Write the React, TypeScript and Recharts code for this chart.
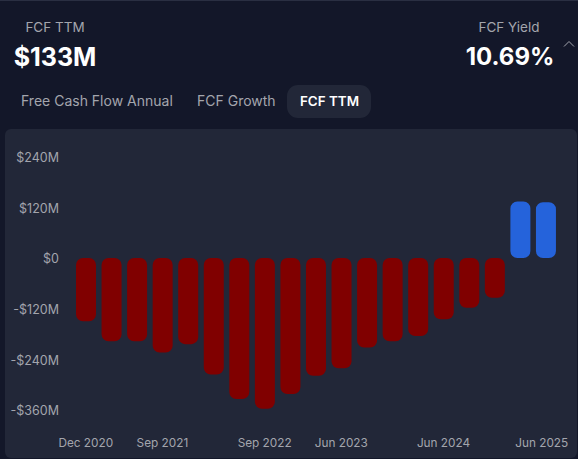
import { BarChart, Bar, XAxis, YAxis, Cell } from 'recharts';

const quarters = [
  'Dec 2020', 'Mar 2021', 'Jun 2021', 'Sep 2021', 'Dec 2021', 'Mar 2022', 'Jun 2022',
  'Sep 2022', 'Dec 2022', 'Mar 2023', 'Jun 2023', 'Sep 2023', 'Dec 2023', 'Mar 2024',
  'Jun 2024', 'Sep 2024', 'Dec 2024', 'Mar 2025', 'Jun 2025',
];
const fcfValues = [
  -150, -197, -197, -224, -204, -276, -334, -357, -322, -279, -261, -212, -197, -185, -145,
  -118, -94, 134, 132,
];
const xTicks = ['Dec 2020', 'Sep 2021', 'Sep 2022', 'Jun 2023', 'Jun 2024', 'Jun 2025'];
const yTicks = [240, 120, 0, -120, -240, -360];

const chartData = quarters.map((name, i) => ({ name, fcf: fcfValues[i] }));

const FONT = 'Inter, sans-serif';
const BG = '#131729';
const PANEL = '#222738';
const MUTED = '#a3a5ad';

function formatMoney(v: number) {
  if (v === 0) return '$0';
  return v < 0 ? `-$${-v}M` : `$${v}M`;
}

function DateTick({ x, y, payload }: any) {
  // last label gets pushed in so it stays inside the panel
  const dx = payload.value === 'Jun 2025' ? -4 : 0;
  return (
    <text x={x + dx} y={y} dy={9} textAnchor="middle" fill={MUTED} fontSize={11.8} fontFamily={FONT}>
      {payload.value}
    </text>
  );
}

function Label({ x, y, size, weight, color, anchor, children }: any) {
  return (
    <div
      style={{
        position: 'absolute',
        left: anchor === 'center' ? x - 100 : x,
        top: y,
        width: anchor === 'center' ? 200 : undefined,
        textAlign: anchor === 'center' ? 'center' : 'left',
        fontSize: size,
        fontWeight: weight,
        color,
        lineHeight: '20px',
        whiteSpace: 'nowrap',
      }}
    >
      {children}
    </div>
  );
}

export default function App() {
  return (
    <div
      style={{
        position: 'absolute',
        left: 0,
        top: 0,
        width: 578,
        height: 459,
        overflow: 'hidden',
        background: BG,
        fontFamily: FONT,
      }}
    >
      <div style={{ position: 'absolute', left: 0, top: 0, width: 578, height: 1, background: '#2a2f42' }} />

      <Label x={55} y={17} size={13.5} weight={400} color={MUTED} anchor="center">FCF TTM</Label>
      <Label x={55} y={47} size={25} weight={700} color="#ffffff" anchor="center">$133M</Label>
      <Label x={509} y={17} size={13.5} weight={400} color={MUTED} anchor="center">FCF Yield</Label>
      <Label x={510} y={47} size={24} weight={700} color="#ffffff" anchor="center">10.69%</Label>

      <svg style={{ position: 'absolute', left: 563, top: 40 }} width={12} height={8}>
        <polyline points="1,6.5 6,1.5 11,6.5" fill="none" stroke={MUTED} strokeWidth={1} />
      </svg>

      <div style={{ position: 'absolute', left: 287, top: 85, width: 84, height: 33, borderRadius: 11, background: PANEL }} />
      <Label x={21} y={91} size={14} weight={400} color={MUTED}>Free Cash Flow Annual</Label>
      <Label x={197} y={91} size={14} weight={400} color={MUTED}>FCF Growth</Label>
      <Label x={300} y={91} size={13.4} weight={600} color="#ffffff">FCF TTM</Label>

      <div style={{ position: 'absolute', left: 5, top: 129, width: 572, height: 329, borderRadius: 6, background: PANEL }} />

      <div style={{ position: 'absolute', left: 0, top: 0 }}>
        <BarChart
          width={578}
          height={459}
          data={chartData}
          margin={{ top: 156.7, right: 19.5, bottom: 19, left: 0 }}
        >
          <XAxis
            dataKey="name"
            ticks={xTicks}
            interval={0}
            axisLine={false}
            tickLine={false}
            height={30}
            tickMargin={22}
            tick={<DateTick />}
          />
          <YAxis
            width={73}
            domain={[-360, 240]}
            ticks={yTicks}
            interval={0}
            axisLine={false}
            tickLine={false}
            tickMargin={8}
            tickFormatter={formatMoney}
            tick={{ fill: MUTED, fontSize: 12.5, fontFamily: FONT, dy: 1 }}
          />
          <Bar dataKey="fcf" barSize={20} radius={7} isAnimationActive={false}>
            {fcfValues.map((v, i) => (
              <Cell key={quarters[i]} fill={v < 0 ? '#800000' : '#2563db'} />
            ))}
          </Bar>
        </BarChart>
      </div>
    </div>
  );
}
